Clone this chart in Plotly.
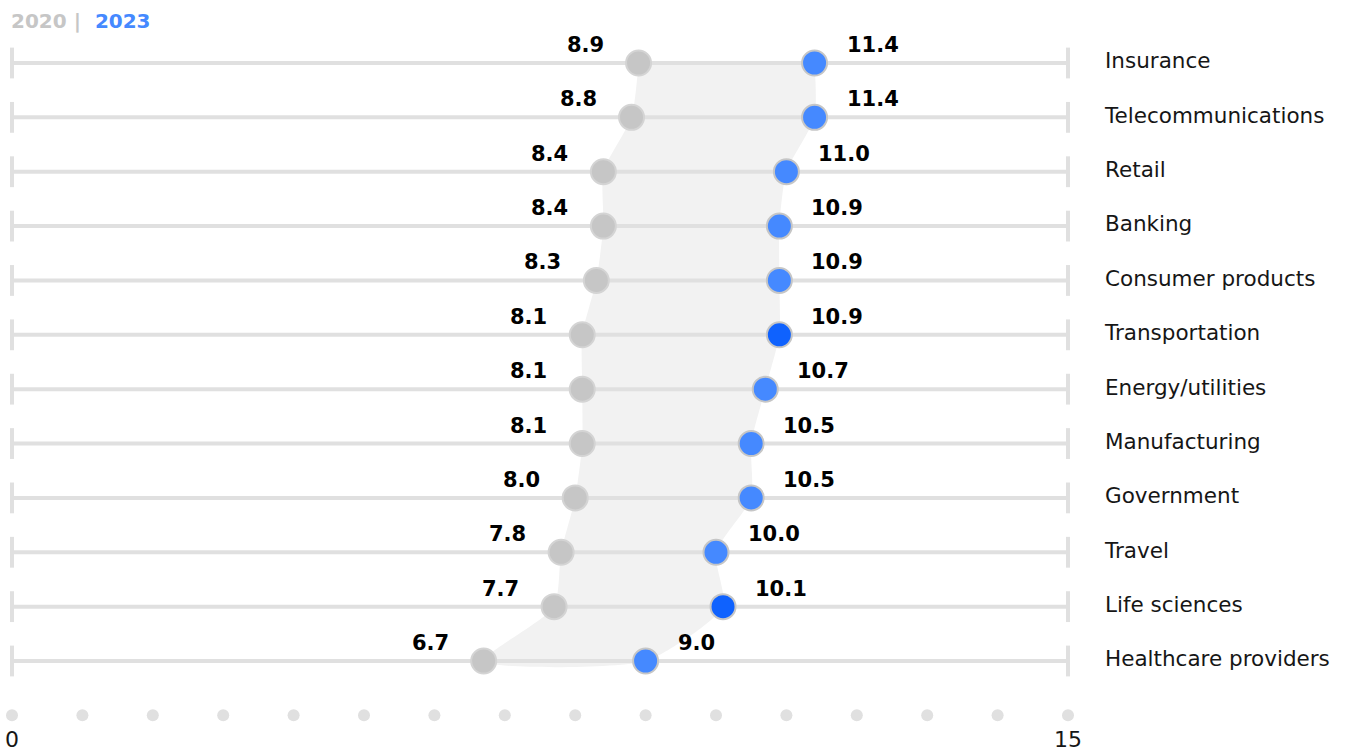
import plotly.graph_objects as go

categories = ["Insurance", "Telecommunications", "Retail", "Banking", "Consumer products",
              "Transportation", "Energy/utilities", "Manufacturing", "Government", "Travel",
              "Life sciences", "Healthcare providers"]
values_2020 = [8.9, 8.8, 8.4, 8.4, 8.3, 8.1, 8.1, 8.1, 8.0, 7.8, 7.7, 6.7]
values_2023 = [11.4, 11.4, 11.0, 10.9, 10.9, 10.9, 10.7, 10.5, 10.5, 10.0, 10.1, 9.0]
highlight = [False, False, False, False, False, True, False, False, False, False, True, False]
axis_ticks = list(range(0, 16))
axis_labels = {0: "0", 15: "15"}

W, H = 1346, 751
X0PX, X15PX = 12, 1068
pxu = (X15PX - X0PX) / 15.0
ROW0, ROWN = 63, 661
n = len(categories)
pyu = (ROWN - ROW0) / (n - 1)
xr = [-X0PX / pxu, (W - X0PX) / pxu]
yr = [(H - ROW0) / pyu, -ROW0 / pyu]

rows = list(range(n))
FONT = "DejaVu Sans"
fig = go.Figure()

# shaded band
bx = values_2020 + values_2023[::-1]
by = rows + rows[::-1]
fig.add_trace(go.Scatter(x=bx, y=by, fill="toself", fillcolor="#f2f2f2",
                         mode="lines", line=dict(width=0, shape="spline", smoothing=0.6),
                         hoverinfo="skip", showlegend=False))

# row lines
lx, ly = [], []
for r in rows:
    lx += [0, 15, None]
    ly += [r, r, None]
fig.add_trace(go.Scatter(x=lx, y=ly, mode="lines", line=dict(color="#e0e0e0", width=4),
                         hoverinfo="skip", showlegend=False))
# end caps
fig.add_trace(go.Scatter(x=[0] * n + [15] * n, y=rows + rows, mode="markers",
                         marker=dict(symbol="line-ns", size=22, line=dict(color="#e0e0e0", width=4)),
                         hoverinfo="skip", showlegend=False))

# dots
fig.add_trace(go.Scatter(x=values_2020, y=rows, mode="markers",
                         marker=dict(size=25, color="#c6c6c6", line=dict(color="#d4d4d4", width=2)),
                         showlegend=False))
fig.add_trace(go.Scatter(x=values_2023, y=rows, mode="markers",
                         marker=dict(size=25, color=["#0f62fe" if h else "#4589ff" for h in highlight],
                                     line=dict(color="#c6c6c6", width=2)),
                         showlegend=False))

# bottom axis dots
fig.add_trace(go.Scatter(x=axis_ticks, y=[n] * len(axis_ticks), mode="markers",
                         marker=dict(size=12, color="#e0e0e0"), hoverinfo="skip", showlegend=False))

# category labels
fig.add_trace(go.Scatter(x=[15 + (1105 - X15PX) / pxu] * n, y=rows, mode="text", text=categories,
                         textposition="middle right",
                         textfont=dict(family=FONT, size=21.5, color="#161616"),
                         hoverinfo="skip", showlegend=False))

anns = []
for r in rows:
    anns.append(dict(x=values_2020[r], y=r, text=f"<b>{values_2020[r]:.1f}</b>", showarrow=False,
                     xanchor="right", yanchor="middle", xshift=-33, yshift=18,
                     font=dict(family=FONT, size=21, color="#000000")))
    anns.append(dict(x=values_2023[r], y=r, text=f"<b>{values_2023[r]:.1f}</b>", showarrow=False,
                     xanchor="left", yanchor="middle", xshift=30, yshift=18,
                     font=dict(family=FONT, size=21, color="#000000")))
for v, t in axis_labels.items():
    anns.append(dict(x=v, y=n, text=t, showarrow=False, xanchor="center", yanchor="middle",
                     yshift=-24, font=dict(family=FONT, size=22, color="#161616")))
anns.append(dict(x=0, y=0, text="<b><span style='color:#c6c6c6'>2020 |</span>  <span style='color:#4589ff'>2023</span></b>",
                 showarrow=False, xanchor="left", yanchor="middle", yshift=42, xshift=-3,
                 font=dict(family=FONT, size=20)))

fig.update_layout(width=W, height=H, margin=dict(l=0, r=0, t=0, b=0),
                  plot_bgcolor="white", paper_bgcolor="white",
                  xaxis=dict(range=xr, visible=False, fixedrange=True),
                  yaxis=dict(range=yr, visible=False, fixedrange=True),
                  annotations=anns, showlegend=False)
fig.write_html("out.html")
